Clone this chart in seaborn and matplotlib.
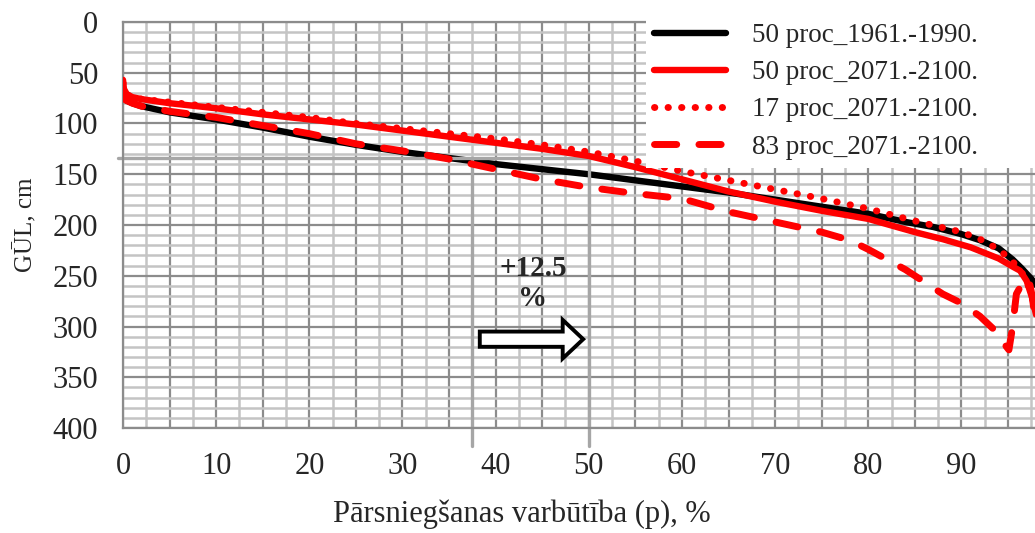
import matplotlib
matplotlib.use("Agg")
import matplotlib.pyplot as plt
import seaborn as sns
from matplotlib.ticker import MultipleLocator, FuncFormatter
from matplotlib.patches import FancyArrow

# exceedance probability (%) and GUL (cm)
p_hist = [0, 0.3, 1, 2, 5, 10, 15, 20, 25, 30, 35, 40, 45, 50, 55, 60, 65, 70,
          75, 80, 84, 87, 90, 92, 94, 95.5, 96.5, 97.5, 98.5]
gul_hist = [74, 77, 80, 83, 89, 96, 104, 113, 121, 128, 134, 140, 145, 150, 156,
            162, 168, 175, 182, 189, 197, 202, 209, 215, 223, 234, 243, 253, 265]

p_50 = [0, 0.1, 0.4, 1, 2, 5, 10, 15, 20, 25, 30, 35, 40, 45, 50, 55, 60, 65,
        70, 75, 80, 85, 88, 91, 94, 95.5, 96.3, 97, 97.6, 98.3]
gul_50 = [57, 66, 71, 74, 76, 80, 85, 91, 96, 101, 107, 113, 119, 125, 132, 143,
          155, 167, 177, 186, 194, 207, 214, 222, 233, 241, 245, 255, 272, 300]

p_17 = [0, 0.2, 0.5, 1, 2, 5, 10, 15, 20, 25, 30, 35, 40, 45, 50, 55, 60, 65,
        70, 75, 80, 85, 90, 92, 94, 95.5, 96.5, 97.3, 98]
gul_17 = [60, 68, 72, 74, 76, 79, 84, 89, 94, 100, 105, 110, 115, 121, 128, 137,
          147, 156, 165, 174, 184, 196, 207, 214, 224, 236, 247, 262, 285]

p_83 = [0, 0.3, 1, 2, 5, 10, 15, 20, 25, 30, 35, 40, 45, 50, 55, 60, 65, 70, 75,
        78, 80, 82, 84, 86, 88, 90, 92, 93.5, 94.5, 95.1, 95.5, 95.9, 96.5, 97.2,
        97.6, 98]
gul_83 = [74, 77, 80, 83, 88, 94, 102, 110, 120, 127, 135, 145, 155, 163, 169,
          174, 187, 197, 207, 215, 224, 234, 244, 256, 268, 277, 290, 303, 316,
          323, 300, 268, 258, 252, 270, 300]

labels = ["50 proc_1961.-1990.", "50 proc_2071.-2100.",
          "17 proc_2071.-2100.", "83 proc_2071.-2100."]

# reference lines and shift annotation
gul_ref = 134
p_old, p_new = 37.5, 50.0
shift_text = "+12.5\n%"

sns.set_style("white")
plt.rcParams["font.family"] = ["Liberation Serif", "DejaVu Serif"]

fig = plt.figure(figsize=(10.35, 5.33), dpi=100)
ax = fig.add_axes([123 / 1035, 105 / 533, 912 / 1035, 406 / 533])

red = "#ff0000"
sns.lineplot(x=p_hist, y=gul_hist, color="black", lw=4.6, ax=ax,
             label=labels[0], zorder=2)
ax.plot([-0.5, 51.8], [gul_ref, gul_ref], color="#a6a6a6", lw=2.4,
        clip_on=False, zorder=2.5)
for p in (p_old, p_new):
    ax.plot([p, p], [gul_ref, 418], color="#a6a6a6", lw=2.4,
            clip_on=False, zorder=2.5)
sns.lineplot(x=p_50, y=gul_50, color=red, lw=4.6, ax=ax, label=labels[1],
             zorder=3)
sns.lineplot(x=p_17, y=gul_17, color=red, lw=5, ax=ax, label=labels[2],
             linestyle=(0, (0.05, 1.9)), dash_capstyle="round", zorder=3)
sns.lineplot(x=p_83, y=gul_83, color=red, lw=5, ax=ax, label=labels[3],
             linestyle=(0, (3.2, 3.2)), dash_capstyle="round", zorder=3)

ax.set_xlim(0, 97.9)
ax.set_ylim(400, 0)
ax.xaxis.set_major_locator(MultipleLocator(5))
ax.xaxis.set_minor_locator(MultipleLocator(2.5))
ax.xaxis.set_major_formatter(FuncFormatter(
    lambda v, pos: f"{int(round(v))}" if round(v) % 10 == 0 else ""))
ax.yaxis.set_major_locator(MultipleLocator(50))
ax.yaxis.set_minor_locator(MultipleLocator(10))

ax.set_axisbelow(True)
ax.grid(which="major", color="#8c8c8c", lw=1.6)
ax.grid(which="minor", color="#c4c4c4", lw=1.8)
for side in ("left", "bottom", "top"):
    ax.spines[side].set_color("#8c8c8c")
    ax.spines[side].set_linewidth(1.6)
ax.spines["right"].set_visible(False)

ax.tick_params(axis="y", which="major", direction="out", length=6,
               width=1.6, color="#8c8c8c", pad=12, labelsize=22)
ax.tick_params(axis="x", which="major", length=0, pad=17, labelsize=22)
ax.tick_params(which="minor", length=0)

ax.set_xlabel("Pārsniegšanas varbūtība (p), %", fontsize=22)
ax.xaxis.set_label_coords(0.4375, -0.175)
ax.set_ylabel("GŪL, cm", fontsize=18)
ax.yaxis.set_label_coords(-0.094, 0.5)

ax.text(44.0, 258, shift_text, ha="center", va="center", fontsize=21,
        fontweight="bold", linespacing=1.15)
ax.add_patch(FancyArrow(38.3, 312.5, 11.1, 0, width=15, head_width=38,
                        head_length=2.2, length_includes_head=True,
                        fc="white", ec="black", lw=2.8, zorder=4))

leg = ax.legend(loc="upper left",
                bbox_to_anchor=(646 / 1035, 0, 1 - 646 / 1035, 518 / 533),
                bbox_transform=fig.transFigure, mode="expand", fontsize=19.5,
                frameon=True, facecolor="white", edgecolor="none", framealpha=1,
                fancybox=False, borderpad=0.3, borderaxespad=0,
                handlelength=2.65, handletextpad=0.95, labelspacing=0.45)

fig.savefig("out.png", dpi=100)
